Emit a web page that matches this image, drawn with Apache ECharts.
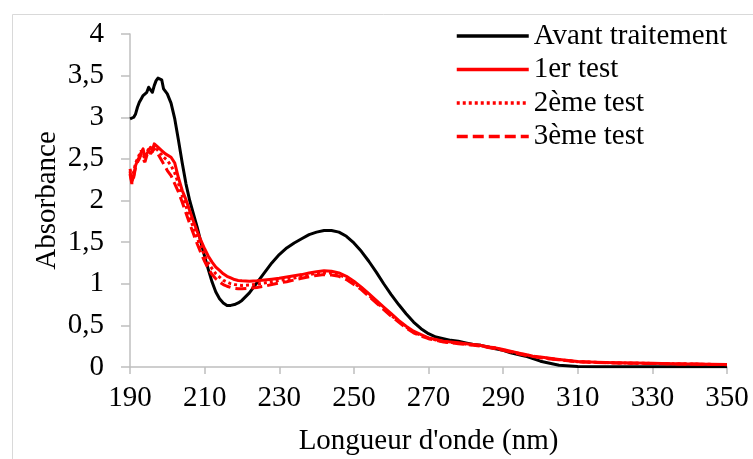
<!DOCTYPE html>
<html>
<head>
<meta charset="utf-8">
<script src="https://cdn.jsdelivr.net/npm/echarts@6/dist/echarts.min.js"></script>
<style>html,body{margin:0;padding:0;background:#fff}#c{width:753px;height:459px}</style>
</head>
<body>
<div id="c"></div>
<script>
// Wavelengths (nm)
const wavelengths = [
  190,190.5,191,191.5,192,192.5,193,193.5,194,194.5,195,195.5,196,196.5,197,197.5,198,198.5,199,199.5,200,
  201,202,203,204,205,206,207,208,209,210,211,212,213,214,215,216,217,218,219,220,
  222,224,226,228,230,232,234,236,238,240,242,244,246,248,250,252,254,256,258,260,
  262,264,266,268,270,272,274,276,278,280,282,284,286,288,290,292,294,296,298,300,
  305,310,315,320,325,330,335,340,345,350
];
const seriesNames = ["Avant traitement", "1er test", "2ème test", "3ème test"];
const avantTraitement = [
  2.98,2.97,3.0,3.04,3.12,3.18,3.22,3.26,3.24,3.3,3.36,3.34,3.3,3.38,3.44,3.47,3.49,3.45,3.34,3.32,3.28,
  3.17,2.98,2.72,2.45,2.2,2.0,1.84,1.68,1.5,1.33,1.17,1.02,0.9,0.82,0.77,0.74,0.74,0.75,0.77,0.8,
  0.89,1.01,1.13,1.25,1.35,1.43,1.49,1.54,1.59,1.62,1.64,1.64,1.62,1.57,1.49,1.39,1.27,1.14,1.0,0.87,
  0.75,0.64,0.54,0.46,0.4,0.36,0.34,0.32,0.31,0.29,0.27,0.26,0.24,0.22,0.2,0.17,0.15,0.13,0.1,0.07,
  0.02,0.006,0.004,0.004,0.004,0.004,0.004,0.004,0.004,0.004
];
const test1 = [
  2.35,2.22,2.3,2.42,2.48,2.52,2.58,2.62,2.52,2.56,2.6,2.64,2.6,2.68,2.66,2.64,2.62,2.6,2.58,2.56,2.55,
  2.52,2.45,2.27,2.12,2.01,1.88,1.75,1.63,1.52,1.42,1.33,1.26,1.2,1.16,1.12,1.09,1.07,1.05,1.04,1.035,
  1.03,1.035,1.045,1.055,1.065,1.08,1.095,1.11,1.13,1.145,1.155,1.15,1.13,1.09,1.03,0.96,0.88,0.8,0.72,0.64,
  0.56,0.49,0.43,0.39,0.35,0.33,0.31,0.3,0.29,0.28,0.27,0.26,0.24,0.23,0.21,0.19,0.17,0.15,0.13,0.12,
  0.09,0.065,0.058,0.052,0.048,0.045,0.04,0.037,0.033,0.03
];
const test2 = [
  2.38,2.28,2.35,2.45,2.5,2.55,2.6,2.55,2.5,2.58,2.62,2.6,2.58,2.66,2.64,2.6,2.58,2.55,2.52,2.5,2.48,
  2.42,2.33,2.2,2.06,1.93,1.8,1.67,1.55,1.44,1.34,1.25,1.18,1.12,1.08,1.04,1.02,1.0,0.99,0.985,0.98,
  0.985,0.995,1.01,1.025,1.04,1.055,1.07,1.09,1.11,1.125,1.13,1.13,1.11,1.07,1.01,0.94,0.86,0.78,0.7,0.62,
  0.55,0.48,0.42,0.38,0.345,0.325,0.305,0.295,0.285,0.275,0.265,0.255,0.24,0.225,0.205,0.185,0.165,0.145,0.13,0.115,
  0.088,0.064,0.056,0.05,0.046,0.043,0.039,0.036,0.032,0.029
];
const test3 = [
  2.32,2.2,2.28,2.4,2.46,2.5,2.56,2.5,2.46,2.54,2.6,2.56,2.55,2.62,2.6,2.56,2.52,2.48,2.44,2.4,2.36,
  2.3,2.2,2.1,1.98,1.85,1.72,1.6,1.48,1.37,1.27,1.18,1.11,1.06,1.02,0.99,0.97,0.955,0.945,0.94,0.94,
  0.945,0.955,0.97,0.99,1.01,1.025,1.045,1.065,1.085,1.1,1.11,1.105,1.09,1.05,0.99,0.93,0.85,0.77,0.69,0.61,
  0.54,0.47,0.41,0.37,0.34,0.32,0.3,0.29,0.28,0.27,0.26,0.25,0.235,0.22,0.2,0.18,0.16,0.14,0.125,0.11,
  0.085,0.062,0.055,0.049,0.045,0.042,0.038,0.035,0.031,0.028
];
const xTicks = [190,210,230,250,270,290,310,330,350];
const yTicks = [0,0.5,1,1.5,2,2.5,3,3.5,4];

const FONT = "'Liberation Serif', 'Times New Roman', serif";
const FS = 29;
const pair = (vals) => wavelengths.map((w, i) => [w, vals[i]]);

const chart = echarts.init(document.getElementById('c'), null, {renderer: 'canvas'});
const axisGray = '#bfbfbf';
chart.setOption({
  animation: false,
  backgroundColor: '#fff',
  graphic: [{
    type: 'rect', left: 10, top: 12, silent: true,
    shape: {x: 0, y: 0, width: 800, height: 500},
    style: {fill: 'none', stroke: '#d9d9d9', lineWidth: 1}
  }],
  grid: {left: 130, right: 26, top: 34, bottom: 92, containLabel: false, outerBoundsMode: 'none'},
  legend: {
    orient: 'vertical', left: 450, top: 16.5,
    itemWidth: 72, itemHeight: 14, itemGap: 4.5,
    itemStyle: {opacity: 0},
    lineStyle: {width: 3.5},
    textStyle: {fontFamily: FONT, fontSize: FS, color: '#000'},
    data: seriesNames
  },
  xAxis: {
    type: 'value', min: xTicks[0], max: xTicks[xTicks.length-1], interval: 20,
    name: "Longueur d'onde (nm)", nameLocation: 'middle', nameGap: 60, nameMoveOverlap: false,
    nameTextStyle: {fontFamily: FONT, fontSize: FS, color: '#000'},
    axisLine: {show: true, lineStyle: {color: axisGray, width: 1.5}},
    axisTick: {show: true, length: 7, lineStyle: {color: axisGray, width: 1.5}},
    axisLabel: {fontFamily: FONT, fontSize: FS, color: '#000', margin: 13, padding: [4, 0, 0, 0]},
    splitLine: {show: false}
  },
  yAxis: {
    type: 'value', min: yTicks[0], max: yTicks[yTicks.length-1], interval: 0.5,
    name: 'Absorbance', nameLocation: 'middle', nameGap: 68.5, nameMoveOverlap: false,
    nameTextStyle: {fontFamily: FONT, fontSize: FS, color: '#000'},
    axisLine: {show: true, lineStyle: {color: axisGray, width: 1.5}},
    axisTick: {show: true, length: 9, lineStyle: {color: axisGray, width: 1.5}},
    axisLabel: {fontFamily: FONT, fontSize: FS, color: '#000', margin: 13, padding: [0, 13, 0, 0],
      formatter: v => String(v).replace('.', ',')},
    splitLine: {show: false}
  },
  series: [
    {name: seriesNames[0], type: 'line', symbol: 'none', data: pair(avantTraitement),
     lineStyle: {color: '#000', width: 3, join: 'round'}, itemStyle: {color: '#000'}},
    {name: seriesNames[1], type: 'line', symbol: 'none', data: pair(test1),
     lineStyle: {color: '#ff0000', width: 3, join: 'round'}, itemStyle: {color: '#ff0000'}},
    {name: seriesNames[2], type: 'line', symbol: 'none', data: pair(test2),
     lineStyle: {color: '#ff0000', width: 3, type: [3, 3]}, itemStyle: {color: '#ff0000'}},
    {name: seriesNames[3], type: 'line', symbol: 'none', data: pair(test3),
     lineStyle: {color: '#ff0000', width: 3, type: [11, 5]}, itemStyle: {color: '#ff0000'}}
  ]
});
</script>
</body>
</html>
